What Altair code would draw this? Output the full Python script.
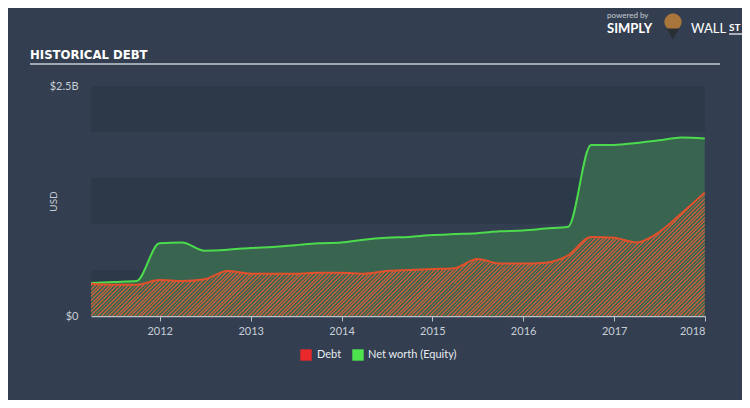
import altair as alt
import pandas as pd

# ---- data (values in billions USD) ----
dates = [
    "2011-03-31", "2011-06-30", "2011-09-30", "2011-12-31",
    "2012-03-31", "2012-06-30", "2012-09-30", "2012-12-31",
    "2013-03-31", "2013-06-30", "2013-09-30", "2013-12-31",
    "2014-03-31", "2014-06-30", "2014-09-30", "2014-12-31",
    "2015-03-31", "2015-06-30", "2015-09-30", "2015-12-31",
    "2016-03-31", "2016-06-30", "2016-09-30", "2016-12-31",
    "2017-03-31", "2017-06-30", "2017-09-30", "2017-12-31",
]
debt = [
    0.35, 0.34, 0.34, 0.39,
    0.38, 0.40, 0.49, 0.46,
    0.46, 0.46, 0.47, 0.47,
    0.46, 0.49, 0.50, 0.51,
    0.52, 0.62, 0.57, 0.57,
    0.58, 0.66, 0.86, 0.85,
    0.80, 0.91, 1.12, 1.34,
]
equity = [
    0.36, 0.37, 0.38, 0.79,
    0.80, 0.71, 0.72, 0.74,
    0.75, 0.77, 0.79, 0.80,
    0.83, 0.85, 0.86, 0.88,
    0.89, 0.90, 0.92, 0.93,
    0.95, 0.97, 1.86, 1.86,
    1.88, 1.91, 1.94, 1.93,
]
series_names = ["Debt", "Net worth (Equity)"]
band_lo = [0.0, 1.0, 2.0]
band_hi = [0.5, 1.5, 2.5]
year_ticks = ["2012-01-01", "2013-01-01", "2014-01-01", "2015-01-01",
              "2016-01-01", "2017-01-01", "2018-01-01"]

df = pd.DataFrame({"date": pd.to_datetime(dates), "debt": debt, "equity": equity})
bands = pd.DataFrame({"lo": band_lo, "hi": band_hi})

W, H = 614, 230
YMAX = 2.5
FONT = "Lato"
BG = "#333f50"

# ---- hatch pattern for the debt area, built as a striped linear gradient ----
bb_h = max(debt) / YMAX * H          # bounding-box height of the debt area (px)
r = bb_h / W
k = (1 + r) / (1 + r * r)
span_px = (W + bb_h) / 2 ** 0.5      # length of the gradient across the box
period = 2.6
n = int(span_px / period)
c1, c2 = "#b85f3d", "#3d6550"
stops = []
for i in range(n):
    a, m, b = i / n, (i + 0.5) / n, (i + 1) / n
    stops += [{"offset": a, "color": c1}, {"offset": m, "color": c1},
              {"offset": m, "color": c2}, {"offset": b, "color": c2}]
hatch = {"gradient": "linear", "x1": 0, "y1": 0, "x2": k, "y2": k * r, "stops": stops}

x_scale = alt.Scale(domain=["2011-03-31", "2018-01-01"])
y_scale = alt.Scale(domain=[0, YMAX], nice=False)

x_enc = alt.X(
    "date:T", scale=x_scale, title=None,
    axis=alt.Axis(values=year_ticks, format="%Y", labelColor="#c8ced6",
                  labelFont=FONT, labelFontSize=11, domainColor="#b8c0ca",
                  tickColor="#b8c0ca", tickSize=5, grid=False, labelPadding=4,
                  domainWidth=1.5),
)
y_axis = alt.Axis(values=[0, 2.5], labelExpr="datum.value == 0 ? '$0' : '$2.5B'",
                  labelColor="#c8ced6", labelFont=FONT, labelFontSize=11,
                  domain=False, ticks=False, grid=False, labelPadding=13,
                  title="USD", titleColor="#c8ced6", titleFont=FONT,
                  titleFontSize=10, titleFontWeight="normal",
                  titleX=-33, titleY=115, titleAngle=-90)

band_layer = alt.Chart(bands).mark_rect(color="#2c3949").encode(
    y=alt.Y("lo:Q", scale=y_scale, axis=y_axis),
    y2="hi:Q",
    x=alt.value(0),
    x2=alt.value(W),
)

base = alt.Chart(df)
eq_area = base.mark_area(color="#386450", interpolate="monotone").encode(
    x=x_enc, y=alt.Y("equity:Q", scale=y_scale))
eq_line = base.mark_line(color="#4cdb4c", strokeWidth=2, interpolate="monotone").encode(
    x="date:T", y="equity:Q")
debt_area = base.mark_area(color=hatch, interpolate="monotone").encode(
    x="date:T", y="debt:Q")
debt_line = base.mark_line(color="#e2512b", strokeWidth=2, interpolate="monotone").encode(
    x="date:T", y="debt:Q")

# ---- decorations: title, rule, logo, legend ----
one = pd.DataFrame({"a": [0]})
deco = alt.Chart(one)
title = deco.mark_text(text="HISTORICAL DEBT",
                       font="Liberation Sans Narrow, DejaVu Sans Condensed, Roboto Condensed, sans-serif",
                       fontWeight="bold", fontSize=13, color="#ffffff",
                       align="left", baseline="alphabetic").encode(
    x=alt.value(-61), y=alt.value(-27))
rule = deco.mark_rule(color="#c5ccd4", strokeWidth=1.5).encode(
    x=alt.value(-61), x2=alt.value(629), y=alt.value(-22))
powered = deco.mark_text(text="powered by", font=FONT, fontSize=8, color="#c8ced6",
                         align="left", baseline="alphabetic").encode(
    x=alt.value(516), y=alt.value(-68))
simply = deco.mark_text(text="SIMPLY", font=FONT, fontWeight="bold", fontSize=13,
                        color="#ffffff", align="left", baseline="alphabetic").encode(
    x=alt.value(516), y=alt.value(-53))
bull = deco.mark_point(filled=True, shape="circle", size=300, color="#a8763a", opacity=1).encode(
    x=alt.value(582), y=alt.value(-64))
bull2 = deco.mark_point(filled=True, shape="triangle-down", size=160, color="#2a2f36", opacity=1).encode(
    x=alt.value(582), y=alt.value(-52))
wall = deco.mark_text(text="WALL", font=FONT, fontSize=13, color="#ffffff",
                      align="left", baseline="alphabetic").encode(
    x=alt.value(600), y=alt.value(-53))
st = deco.mark_text(text="ST", font=FONT, fontWeight="bold", fontSize=10,
                    color="#ffffff", align="left", baseline="alphabetic").encode(
    x=alt.value(638), y=alt.value(-55))
st_rule = deco.mark_rule(color="#ffffff", strokeWidth=1.2).encode(
    x=alt.value(638), x2=alt.value(651), y=alt.value(-52))

leg_debt_sq = deco.mark_square(size=130, color="#e8282a", opacity=1).encode(
    x=alt.value(215), y=alt.value(269))
leg_debt_tx = deco.mark_text(text=series_names[0], font=FONT, fontSize=11,
                             color="#e6ebef", align="left", baseline="middle").encode(
    x=alt.value(226), y=alt.value(269))
leg_eq_sq = deco.mark_square(size=130, color="#4ee44e", opacity=1).encode(
    x=alt.value(267), y=alt.value(269))
leg_eq_tx = deco.mark_text(text=series_names[1], font=FONT, fontSize=11,
                           color="#e6ebef", align="left", baseline="middle").encode(
    x=alt.value(277), y=alt.value(269))

chart = alt.layer(
    band_layer, eq_area, eq_line, debt_area, debt_line,
    title, rule, powered, simply, bull, bull2, wall, st, st_rule,
    leg_debt_sq, leg_debt_tx, leg_eq_sq, leg_eq_tx,
).properties(
    width=W, height=H,
    autosize=alt.AutoSizeParams(type="none"),
    padding={"left": 83, "top": 78, "right": 37, "bottom": 84},
).configure(background=BG).configure_view(stroke=None)

chart.save("out.html", embed_options={"renderer": "svg", "actions": False})
